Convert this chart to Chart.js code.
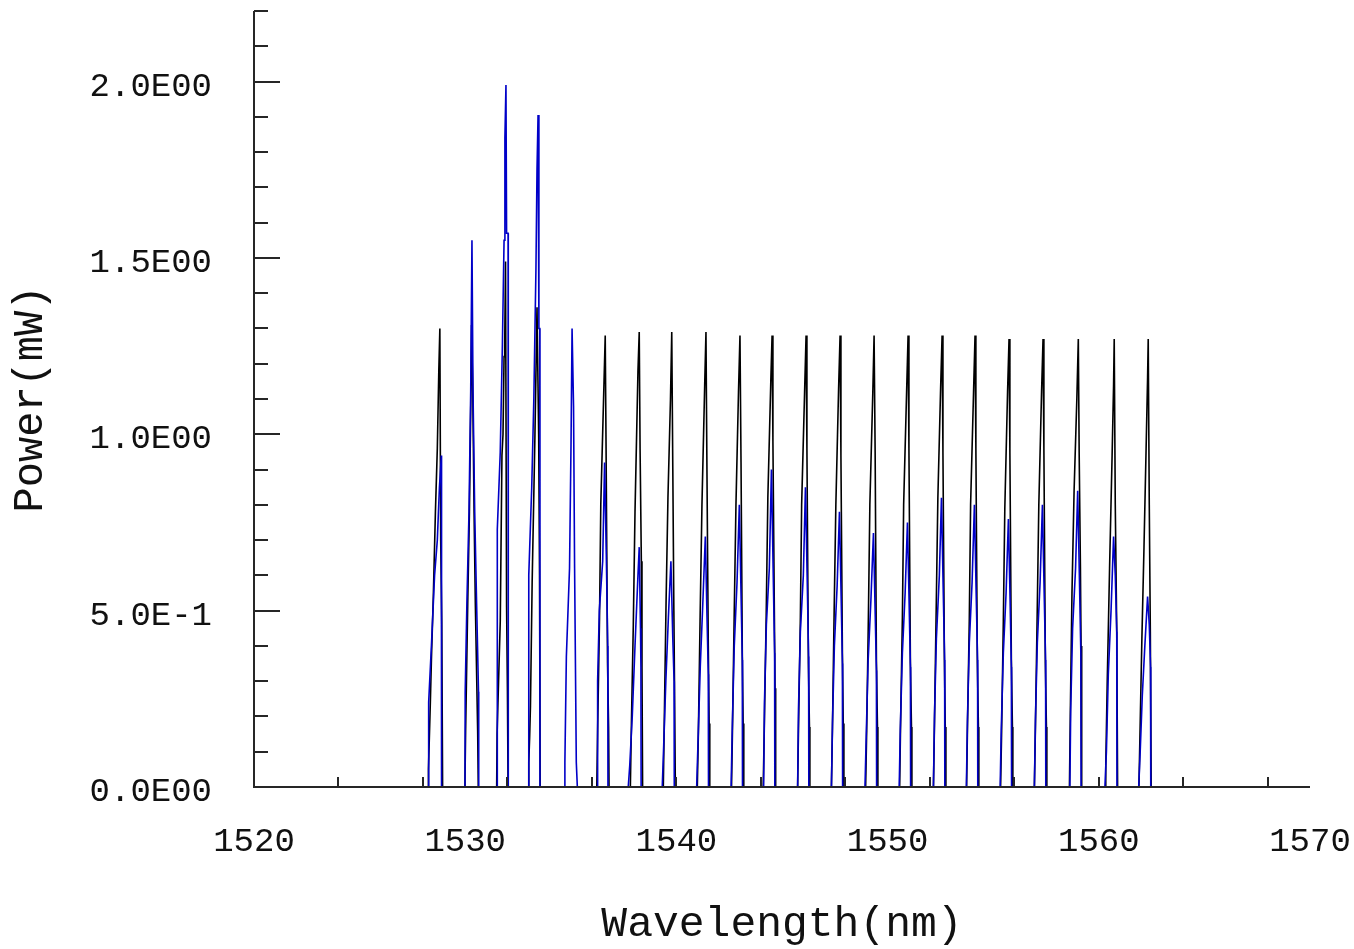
<!DOCTYPE html>
<html>
<head>
<meta charset="utf-8">
<script src="https://cdn.jsdelivr.net/npm/chart.js@4.4.1/dist/chart.umd.min.js"></script>
<style>
  html, body { margin: 0; padding: 0; background: #ffffff; }
  #wrap { width: 1354px; height: 949px; position: relative; }
</style>
</head>
<body>
<div id="wrap"><canvas id="spectrum" width="1354" height="949"></canvas></div>
<script>
// Channel centre wavelengths (nm) of the WDM comb
const channelNm = [1528.80, 1530.32, 1531.91, 1533.45, 1535.06, 1536.63, 1538.24, 1539.78,
                   1541.40, 1543.01, 1544.53, 1546.14, 1547.75, 1549.36, 1550.97, 1552.58,
                   1554.14, 1555.75, 1557.36, 1559.03, 1560.73, 1562.34];

// Black trace: per channel, samples as [offset from centre (nm), power (mW)]
const blackSamples = [
  [[-0.56,0],[-0.54,0.05],[-0.45,0.24],[-0.40,0.36],[-0.31,0.54],[-0.21,0.78],[-0.12,0.96],[-0.05,1.18],[0,1.30],[0.04,0.70],[0.09,0.47],[0.13,0]],
  [[-0.36,0],[-0.33,0.02],[-0.30,0.16],[-0.20,0.52],[-0.12,0.78],[-0.05,1.11],[-0.02,1.31],[0.04,1.11],[0.10,0.78],[0.16,0.52],[0.27,0.16],[0.30,0]],
  [[-0.42,0],[-0.40,0.15],[-0.33,0.30],[-0.25,0.47],[-0.17,0.94],[-0.12,1.00],[-0.07,1.22],[-0.04,1.25],[0,1.49],[0.05,0.51],[0.09,0.27],[0.12,0]],
  [[-0.46,0],[-0.44,0.07],[-0.40,0.14],[-0.36,0.23],[-0.28,0.58],[-0.15,0.99],[-0.05,1.36],[0.03,0.99],[0.07,0.60],[0.10,0]],
  [],
  [[-0.40,0],[-0.36,0.16],[-0.27,0.48],[-0.21,0.80],[-0.07,1.12],[0,1.28],[0.04,0.96],[0.11,0.35],[0.16,0.17],[0.18,0]],
  [[-0.42,0],[-0.37,0.18],[-0.28,0.46],[-0.20,0.78],[-0.06,1.18],[0,1.29],[0.04,0.96],[0.10,0.64],[0.13,0.34],[0.16,0]],
  [[-0.40,0],[-0.35,0.20],[-0.27,0.52],[-0.18,0.82],[-0.06,1.10],[0,1.29],[0.05,0.90],[0.10,0.50],[0.14,0.22],[0.17,0]],
  [[-0.41,0],[-0.36,0.15],[-0.28,0.47],[-0.19,0.80],[-0.06,1.14],[0,1.29],[0.04,0.95],[0.11,0.40],[0.15,0.18],[0.18,0]],
  [[-0.40,0],[-0.35,0.18],[-0.27,0.50],[-0.19,0.80],[-0.07,1.12],[0,1.28],[0.05,0.92],[0.11,0.38],[0.15,0.18],[0.18,0]],
  [[-0.42,0],[-0.37,0.16],[-0.28,0.48],[-0.20,0.82],[-0.06,1.15],[0,1.28],[0.04,0.98],[0.10,0.55],[0.14,0.28],[0.17,0]],
  [[-0.40,0],[-0.36,0.16],[-0.27,0.48],[-0.21,0.80],[-0.07,1.12],[0,1.28],[0.04,0.96],[0.11,0.35],[0.16,0.17],[0.18,0]],
  [[-0.41,0],[-0.36,0.17],[-0.28,0.50],[-0.20,0.80],[-0.07,1.13],[0,1.28],[0.04,0.94],[0.11,0.38],[0.15,0.18],[0.18,0]],
  [[-0.40,0],[-0.35,0.16],[-0.27,0.48],[-0.20,0.80],[-0.06,1.12],[0,1.28],[0.05,0.95],[0.11,0.36],[0.16,0.17],[0.18,0]],
  [[-0.40,0],[-0.36,0.16],[-0.27,0.48],[-0.21,0.80],[-0.07,1.12],[0,1.28],[0.04,0.96],[0.11,0.35],[0.16,0.17],[0.18,0]],
  [[-0.41,0],[-0.36,0.18],[-0.28,0.50],[-0.20,0.82],[-0.07,1.13],[0,1.28],[0.04,0.95],[0.11,0.36],[0.15,0.17],[0.18,0]],
  [[-0.40,0],[-0.36,0.16],[-0.27,0.48],[-0.21,0.80],[-0.07,1.12],[0,1.28],[0.04,0.96],[0.11,0.35],[0.16,0.17],[0.18,0]],
  [[-0.40,0],[-0.35,0.16],[-0.27,0.47],[-0.20,0.79],[-0.07,1.12],[0,1.27],[0.04,0.95],[0.11,0.36],[0.16,0.17],[0.18,0]],
  [[-0.41,0],[-0.36,0.17],[-0.28,0.48],[-0.20,0.80],[-0.07,1.12],[0,1.27],[0.04,0.96],[0.11,0.35],[0.16,0.17],[0.18,0]],
  [[-0.42,0],[-0.38,0.20],[-0.30,0.55],[-0.20,0.84],[-0.07,1.10],[0,1.27],[0.04,0.95],[0.10,0.62],[0.13,0.40],[0.16,0]],
  [[-0.43,0],[-0.40,0.06],[-0.33,0.30],[-0.22,0.62],[-0.10,0.94],[-0.03,1.14],[0,1.27],[0.05,0.80],[0.12,0.44],[0.16,0]],
  [[-0.44,0],[-0.38,0.18],[-0.30,0.42],[-0.20,0.68],[-0.10,0.96],[-0.03,1.16],[0,1.27],[0.05,0.80],[0.10,0.44],[0.14,0]]
];

// Blue trace: per channel, samples as [offset from centre (nm), power (mW)]
const blueSamples = [
  [[-0.54,0],[-0.53,0.24],[-0.40,0.40],[-0.25,0.60],[-0.12,0.70],[-0.02,0.85],[0.07,0.94],[0.08,0]],
  [[-0.33,0],[-0.32,0.27],[-0.24,0.52],[-0.14,0.78],[-0.06,1.12],[0,1.55],[0.05,1.12],[0.13,0.78],[0.22,0.52],[0.31,0.27],[0.32,0]],
  [[-0.40,0],[-0.39,0.73],[-0.25,0.95],[-0.15,1.25],[-0.07,1.55],[-0.03,1.84],[0.02,1.99],[0.05,1.57],[0.12,1.57],[0.13,0]],
  [[-0.45,0],[-0.44,0.60],[-0.30,0.85],[-0.20,1.10],[-0.10,1.47],[-0.05,1.75],[0,1.905],[0.04,1.30],[0.08,1.30],[0.09,0]],
  [[-0.35,0],[-0.34,0.07],[-0.27,0.37],[-0.12,0.62],[-0.05,0.97],[0,1.30],[0.07,1.08],[0.12,0.62],[0.20,0.07],[0.25,0]],
  [[-0.37,0],[-0.36,0.30],[-0.28,0.50],[-0.12,0.64],[-0.03,0.92],[0.05,0.66],[0.12,0.40],[0.13,0]],
  [[-0.52,0],[-0.45,0.06],[-0.33,0.20],[-0.20,0.40],[-0.06,0.60],[0,0.68],[0.06,0.45],[0.08,0.34],[0.09,0]],
  [[-0.45,0],[-0.38,0.12],[-0.28,0.30],[-0.16,0.48],[-0.04,0.64],[0.05,0.42],[0.11,0.30],[0.12,0]],
  [[-0.44,0],[-0.37,0.14],[-0.27,0.34],[-0.15,0.52],[-0.03,0.71],[0.05,0.48],[0.11,0.32],[0.12,0]],
  [[-0.42,0],[-0.36,0.18],[-0.27,0.40],[-0.14,0.58],[-0.03,0.80],[0.05,0.55],[0.11,0.36],[0.12,0]],
  [[-0.40,0],[-0.36,0.24],[-0.27,0.46],[-0.13,0.62],[-0.03,0.90],[0.05,0.62],[0.12,0.38],[0.13,0]],
  [[-0.40,0],[-0.36,0.22],[-0.27,0.44],[-0.13,0.60],[-0.03,0.85],[0.05,0.60],[0.12,0.37],[0.13,0]],
  [[-0.41,0],[-0.36,0.18],[-0.27,0.40],[-0.14,0.57],[-0.03,0.78],[0.05,0.54],[0.11,0.35],[0.12,0]],
  [[-0.43,0],[-0.37,0.15],[-0.28,0.36],[-0.15,0.53],[-0.03,0.72],[0.05,0.50],[0.11,0.33],[0.12,0]],
  [[-0.42,0],[-0.37,0.16],[-0.27,0.38],[-0.14,0.55],[-0.03,0.75],[0.05,0.52],[0.11,0.34],[0.12,0]],
  [[-0.41,0],[-0.36,0.20],[-0.27,0.42],[-0.13,0.60],[-0.03,0.82],[0.05,0.57],[0.12,0.36],[0.13,0]],
  [[-0.41,0],[-0.36,0.19],[-0.27,0.41],[-0.14,0.58],[-0.03,0.80],[0.05,0.56],[0.12,0.36],[0.13,0]],
  [[-0.42,0],[-0.37,0.16],[-0.27,0.38],[-0.14,0.55],[-0.03,0.76],[0.05,0.53],[0.11,0.34],[0.12,0]],
  [[-0.41,0],[-0.36,0.19],[-0.27,0.41],[-0.14,0.58],[-0.03,0.80],[0.05,0.56],[0.12,0.36],[0.13,0]],
  [[-0.40,0],[-0.36,0.22],[-0.27,0.45],[-0.13,0.62],[-0.03,0.84],[0.05,0.60],[0.12,0.38],[0.13,0]],
  [[-0.44,0],[-0.37,0.10],[-0.28,0.32],[-0.15,0.50],[-0.03,0.71],[0.05,0.60],[0.12,0.44],[0.13,0]],
  [[-0.45,0],[-0.38,0.10],[-0.28,0.26],[-0.16,0.40],[-0.03,0.54],[0.05,0.46],[0.11,0.34],[0.12,0]]
];

// Axis tick values and their printed labels
const xTickValues = [1520, 1530, 1540, 1550, 1560, 1570];
const xTickText   = ['1520', '1530', '1540', '1550', '1560', '1570'];
const xMinorTicks = [1524, 1528, 1532, 1536, 1540, 1544, 1548, 1552, 1556, 1560, 1564, 1568];
const yTickValues = [0, 0.5, 1.0, 1.5, 2.0];
const yTickText   = ['0.0E00', '5.0E-1', '1.0E00', '1.5E00', '2.0E00'];
const yMinorTicks = [0.1, 0.2, 0.3, 0.4, 0.6, 0.7, 0.8, 0.9, 1.1, 1.2, 1.3, 1.4, 1.6, 1.7, 1.8, 1.9, 2.1, 2.2];

// Expand per-channel samples into absolute (wavelength, power) points
function tracePoints(samples) {
  const pts = [];
  samples.forEach((rows, i) => {
    rows.forEach(([dx, p]) => pts.push({ x: +(channelNm[i] + dx).toFixed(3), y: p }));
  });
  return pts;
}

const monoFont = "'Liberation Mono', 'DejaVu Sans Mono', monospace";

// Keep the plot box fixed: no extra room reserved for end labels
function fixBox(size) {
  return s => {
    if (s.isHorizontal()) s.height = size; else s.width = size;
    s.paddingTop = 0; s.paddingBottom = 0; s.paddingLeft = 0; s.paddingRight = 0;
  };
}

// Axis frame with inward tick marks, drawn over the traces
const frameTicks = {
  id: 'frameTicks',
  afterDatasetsDraw(chart) {
    const { ctx, scales: { x, y } } = chart;
    const xl = Math.round(x.getPixelForValue(1520));
    const xr = Math.round(x.getPixelForValue(1570));
    const yb = Math.round(y.getPixelForValue(0));
    const yt = Math.round(y.getPixelForValue(2.2));
    ctx.save();
    ctx.strokeStyle = '#262626';
    ctx.lineWidth = 2;
    ctx.beginPath();
    ctx.moveTo(xl, yt); ctx.lineTo(xl, yb); ctx.lineTo(xr, yb);
    yMinorTicks.forEach(v => {
      const p = Math.round(y.getPixelForValue(v));
      ctx.moveTo(xl, p); ctx.lineTo(xl + 14, p);
    });
    yTickValues.slice(1).forEach(v => {
      const p = Math.round(y.getPixelForValue(v));
      ctx.moveTo(xl, p); ctx.lineTo(xl + 26, p);
    });
    xMinorTicks.forEach(v => {
      const p = Math.round(x.getPixelForValue(v));
      ctx.moveTo(p, yb); ctx.lineTo(p, yb - 10);
    });
    ctx.stroke();
    ctx.restore();
  }
};

new Chart(document.getElementById('spectrum'), {
  type: 'line',
  data: {
    datasets: [
      {
        label: 'blue',
        data: tracePoints(blueSamples),
        borderColor: '#0000c8',
        borderWidth: 1.6,
        pointRadius: 0,
        tension: 0,
        fill: false
      },
      {
        label: 'black',
        data: tracePoints(blackSamples),
        borderColor: '#000000',
        borderWidth: 1.6,
        pointRadius: 0,
        tension: 0,
        fill: false
      }
    ]
  },
  options: {
    responsive: false,
    animation: false,
    devicePixelRatio: 1,
    layout: { padding: { top: 11, right: 44, bottom: 0, left: 0 } },
    plugins: { legend: { display: false }, tooltip: { enabled: false } },
    scales: {
      x: {
        type: 'linear',
        min: 1520,
        max: 1570,
        grid: { display: false, drawTicks: false },
        border: { display: false },
        afterBuildTicks: s => { s.ticks = xTickValues.map(v => ({ value: v })); },
        afterFit: fixBox(162),
        ticks: {
          autoSkip: false,
          maxRotation: 0,
          padding: 35,
          color: '#111',
          font: { family: monoFont, size: 34 },
          callback: v => xTickText[xTickValues.indexOf(v)]
        },
        title: {
          display: true,
          text: 'Wavelength(nm)',
          color: '#111',
          font: { family: monoFont, size: 43, lineHeight: 1 },
          padding: { top: 0, bottom: 3 }
        }
      },
      y: {
        type: 'linear',
        min: 0,
        max: 2.2,
        grid: { display: false, drawTicks: false },
        border: { display: false },
        afterBuildTicks: s => { s.ticks = yTickValues.map(v => ({ value: v })); },
        afterFit: fixBox(254),
        ticks: {
          autoSkip: false,
          padding: 42,
          labelOffset: 5,
          color: '#111',
          font: { family: monoFont, size: 34 },
          callback: v => yTickText[yTickValues.indexOf(v)]
        },
        title: {
          display: true,
          text: 'Power(mW)',
          color: '#111',
          font: { family: monoFont, size: 42, lineHeight: 1 },
          padding: { top: 10, bottom: 0 }
        }
      }
    }
  },
  plugins: [frameTicks]
});
</script>
</body>
</html>
